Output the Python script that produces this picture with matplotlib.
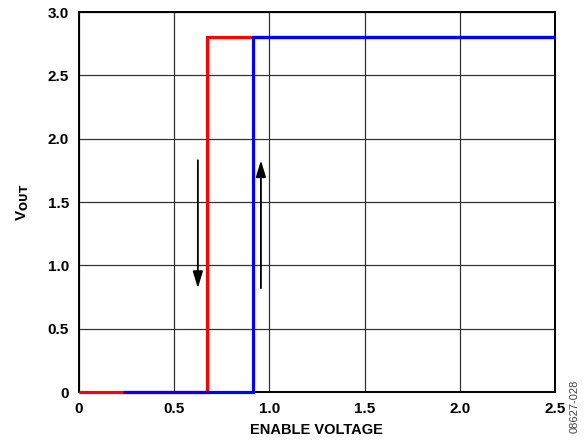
import matplotlib.pyplot as plt
from matplotlib.ticker import FixedLocator

plt.rcParams['font.family'] = ['Liberation Sans', 'DejaVu Sans']

# falling edge (red) and rising edge (blue)
red_x = [0.0, 0.672, 0.672, 2.5]
red_y = [0.0, 0.0, 2.8, 2.8]
blue_x = [0.23, 0.914, 0.914, 2.5]
blue_y = [0.0, 0.0, 2.8, 2.8]

x_ticks = [0, 0.5, 1.0, 1.5, 2.0, 2.5]
x_labels = ['0', '0.5', '1.0', '1.5', '2.0', '2.5']
y_ticks = [0, 0.5, 1.0, 1.5, 2.0, 2.5, 3.0]
y_labels = ['0', '0.5', '1.0', '1.5', '2.0', '2.5', '3.0']

# arrows: (x, y_start, y_end)
arrow_down = (0.625, 1.83, 0.82)
arrow_up = (0.956, 0.82, 1.83)

fig = plt.figure(figsize=(5.88, 4.46), dpi=100)
ax = fig.add_axes([0.134, 0.121, 0.81, 0.852])

ax.plot(red_x, red_y, color='#ff0000', lw=2.3, solid_joinstyle='miter',
        solid_capstyle='butt', clip_on=False, zorder=3)
ax.plot(blue_x, blue_y, color='#0000ff', lw=2.3, solid_joinstyle='miter',
        solid_capstyle='butt', clip_on=False, zorder=4)

for x0, y0, y1 in (arrow_down, arrow_up):
    ax.annotate('', xy=(x0, y1), xytext=(x0, y0),
                arrowprops=dict(arrowstyle='-|>,head_length=1.0,head_width=0.3',
                                color='black', lw=1.3, shrinkA=0, shrinkB=0))

ax.set_xlim(0, 2.5)
ax.set_ylim(0, 3.0)
ax.xaxis.set_major_locator(FixedLocator(x_ticks))
ax.yaxis.set_major_locator(FixedLocator(y_ticks))
ax.set_xticklabels(x_labels, fontsize=11, fontweight='bold')
ax.set_yticklabels(y_labels, fontsize=11, fontweight='bold')
ax.tick_params(length=0, pad=7)
ax.grid(True, color='#333333', lw=0.9)
ax.set_axisbelow(True)
for s in ax.spines.values():
    s.set_linewidth(1.4)
    s.set_zorder(2.5)

ax.set_xlabel('ENABLE VOLTAGE', fontsize=10.5, fontweight='bold', labelpad=5)
ax.set_ylabel(r'V$_{\mathbf{OUT}}$', fontsize=11, fontweight='bold', labelpad=12)

fig.text(0.978, 0.09, '08627-028', rotation=90, fontsize=8, color='#444444',
         ha='center', va='center')

fig.savefig('out.png', dpi=100)
